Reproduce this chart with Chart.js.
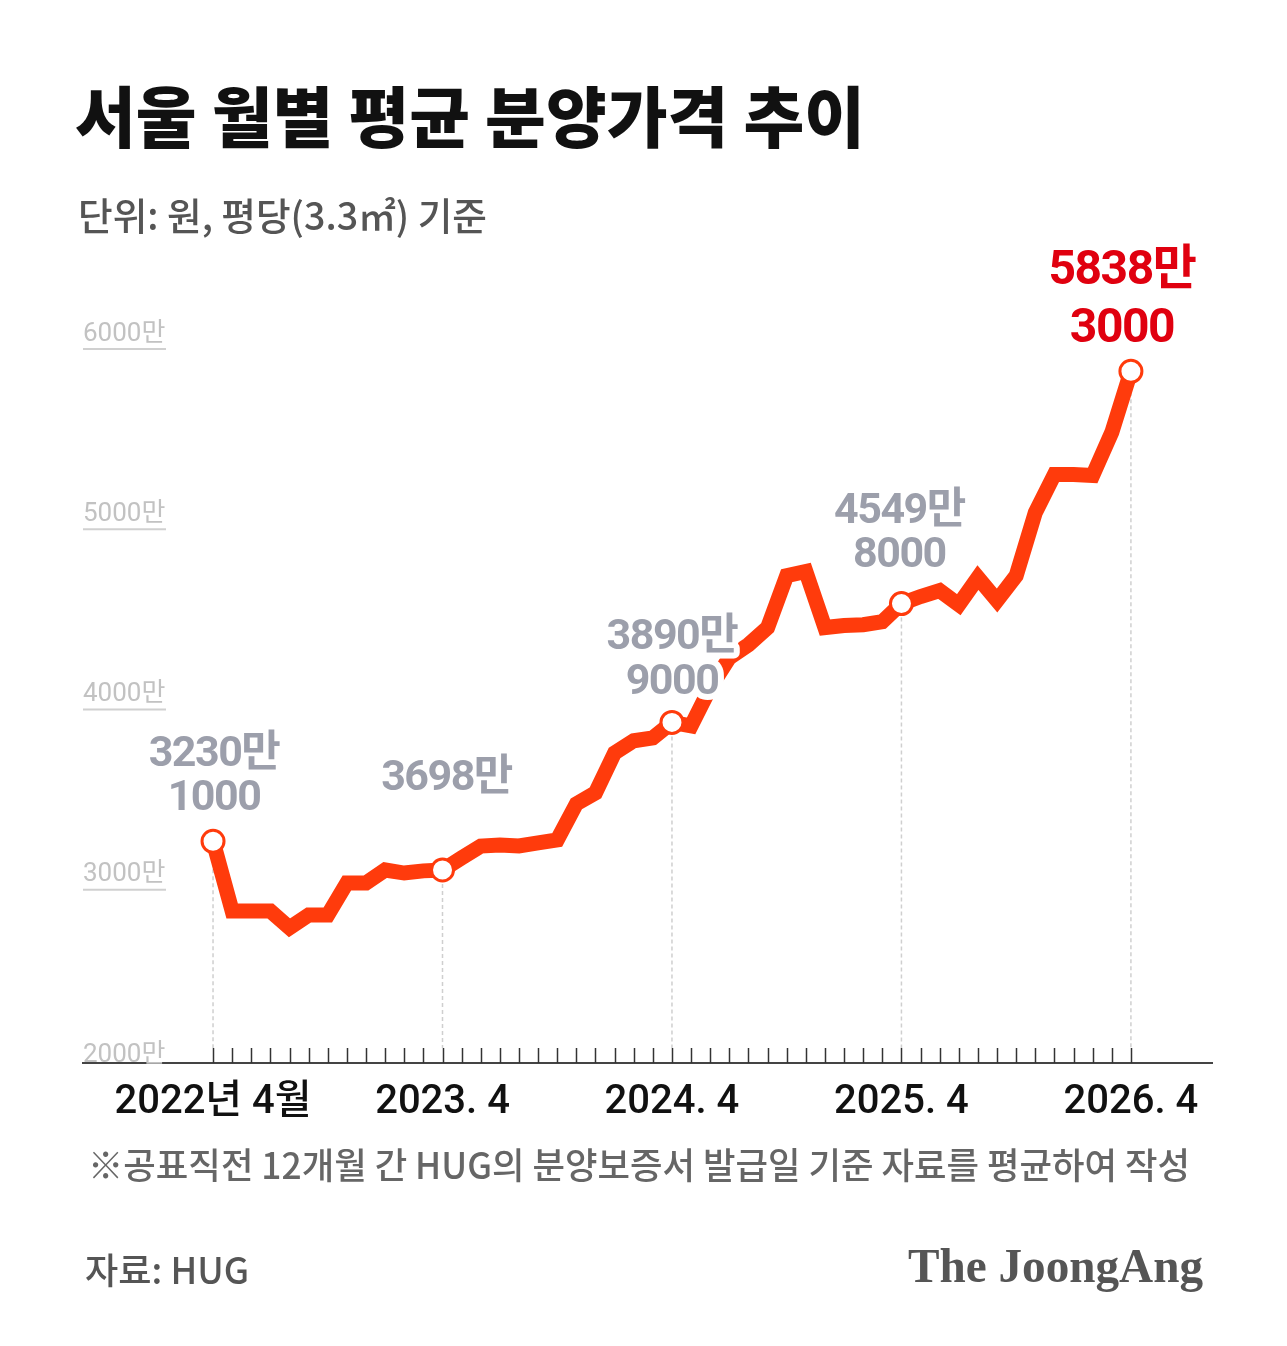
<!DOCTYPE html>
<html>
<head>
<meta charset="utf-8">
<script src="https://cdn.jsdelivr.net/npm/chart.js@4.4.1/dist/chart.umd.min.js"></script>
<style>
body{margin:0;background:#fff;width:1287px;height:1346px;position:relative;overflow:hidden;font-family:'Noto Sans CJK KR','Noto Sans',sans-serif}
#c{position:absolute;left:0;top:0}
.t{position:absolute;white-space:nowrap;line-height:1;transform-origin:left center}
</style>
</head>
<body>
<canvas id="c" width="1287" height="1346"></canvas>
<div class="t" data-w="790" style="left:75px;top:80px;font-size:66px;font-weight:900;color:#111">서울 월별 평균 분양가격 추이</div>
<div class="t" data-w="409" style="left:78px;top:195px;font-size:38px;font-weight:500;color:#555">단위: 원, 평당(3.3㎡) 기준</div>
<div class="t" data-w="1102" style="left:88px;top:1145px;font-size:36px;font-weight:500;color:#666">※공표직전 12개월 간 HUG의 분양보증서 발급일 기준 자료를 평균하여 작성</div>
<div class="t" data-w="164" style="left:85px;top:1250px;font-size:36px;font-weight:500;color:#555">자료: HUG</div>
<div class="t" data-w="295" style="left:908px;top:1242px;font-size:48px;font-weight:700;color:#555;font-family:'Liberation Serif',serif">The JoongAng</div>
<script>
// 월별 평균 분양가 (만원/평), 그림에서 읽은 값
var months = ['2022.4','2022.5','2022.6','2022.7','2022.8','2022.9','2022.10','2022.11','2022.12',
  '2023.1','2023.2','2023.3','2023.4','2023.5','2023.6','2023.7','2023.8','2023.9','2023.10','2023.11','2023.12',
  '2024.1','2024.2','2024.3','2024.4','2024.5','2024.6','2024.7','2024.8','2024.9','2024.10','2024.11','2024.12',
  '2025.1','2025.2','2025.3','2025.4','2025.5','2025.6','2025.7','2025.8','2025.9','2025.10','2025.11','2025.12',
  '2026.1','2026.2','2026.3','2026.4'];
var prices = [3230,2843,2843,2843,2750,2821,2821,2999,2999,3071,3054,3066,3071,3138,3204,3210,3204,3221,3238,3438,3499,
  3721,3788,3804,3890,3871,4082,4249,4321,4416,4704,4727,4416,4427,4432,4449,4549,4588,4621,4543,4693,4566,4704,
  5054,5266,5266,5260,5499,5838];
var tickMonths = ['2022.4','2023.4','2024.4','2025.4','2026.4'];
var tickLabels = ['2022년 4월','2023. 4','2024. 4','2025. 4','2026. 4'];
var yTicks = [2000,3000,4000,5000,6000];
// 표시된 값 라벨
var noteMonths = ['2022.4','2023.4','2024.4','2025.4','2026.4'];
var noteTexts = [['3230만','1000'],['3698만'],['3890만','9000'],['4549만','8000'],['5838만','3000']];

var lineColor = '#ff3b0c';
var markIdx = noteMonths.map(function(m){ return months.indexOf(m) });

var overlay = {
  id: 'overlay',
  beforeDatasetsDraw: function(chart) {
    var ctx = chart.ctx, x = chart.scales.x, y = chart.scales.y, area = chart.chartArea;
    ctx.save();
    ctx.strokeStyle = '#cfcfcf';
    ctx.lineWidth = 1.5;
    ctx.setLineDash([4,3]);
    markIdx.forEach(function(i){
      var px = x.getPixelForValue(i), py = y.getPixelForValue(prices[i]);
      ctx.beginPath(); ctx.moveTo(px, py); ctx.lineTo(px, area.bottom - 15); ctx.stroke();
    });
    ctx.restore();
  },
  afterDatasetsDraw: function(chart) {
    var ctx = chart.ctx, x = chart.scales.x, y = chart.scales.y;
    // offsets of label block, last line above point
    var dx = [1,4,0,-2,-9], dy = [42,91,39,47,41], lh = [44,44,45,44,58];
    ctx.save();
    ctx.textAlign = 'center';
    ctx.textBaseline = 'middle';
    ctx.lineJoin = 'round';
    noteTexts.forEach(function(lines, k){
      var i = markIdx[k];
      var px = x.getPixelForValue(i) + dx[k], py = y.getPixelForValue(prices[i]) - dy[k];
      var red = k == noteTexts.length - 1;
      ctx.font = 'bold ' + (red ? 48 : 43) + 'px Roboto, "Noto Sans CJK KR"';
      ctx.letterSpacing = '-1.5px';
      for (var j = 0; j < lines.length; j++) {
        var ly = py - (lines.length - 1 - j) * lh[k];
        ctx.strokeStyle = '#fff';
        ctx.lineWidth = 12;
        ctx.strokeText(lines[j], px, ly);
        ctx.fillStyle = red ? '#e0000f' : '#9c9fab';
        ctx.fillText(lines[j], px, ly);
      }
    });
    ctx.restore();
  },
  afterDraw: function(chart) {
    var ctx = chart.ctx, x = chart.scales.x, y = chart.scales.y, area = chart.chartArea;
    ctx.save();
    // month ticks above the axis
    ctx.strokeStyle = '#333';
    ctx.lineWidth = 1.5;
    months.forEach(function(m, i){
      var px = Math.round(x.getPixelForValue(i)) + 0.5;
      ctx.beginPath(); ctx.moveTo(px, area.bottom); ctx.lineTo(px, area.bottom - 15); ctx.stroke();
    });
    // underline under y labels
    ctx.strokeStyle = '#d0d0d0';
    ctx.lineWidth = 2;
    yTicks.forEach(function(v){
      if (v == yTicks[0]) return;
      var py = y.getPixelForValue(v) + 7;
      ctx.beginPath(); ctx.moveTo(area.left, py); ctx.lineTo(area.left + 83, py); ctx.stroke();
    });
    ctx.restore();
  }
};

function draw() {
  var ctx = document.getElementById('c').getContext('2d');
  new Chart(ctx, {
    type: 'line',
    data: {
      datasets: [{
        data: months.map(function(m, i){ return {x: i, y: prices[i]} }),
        borderColor: lineColor,
        borderWidth: 15,
        borderJoinStyle: 'miter',
        tension: 0,
        pointRadius: function(c){ return markIdx.indexOf(c.dataIndex) >= 0 ? 11 : 0 },
        pointHoverRadius: function(c){ return markIdx.indexOf(c.dataIndex) >= 0 ? 11 : 0 },
        pointBackgroundColor: '#fff',
        pointBorderColor: lineColor,
        pointBorderWidth: 3
      }]
    },
    options: {
      responsive: false,
      animation: false,
      events: [],
      layout: { padding: { top: 252, left: 83, right: 75, bottom: 203 } },
      plugins: { legend: { display: false }, tooltip: { enabled: false } },
      scales: {
        x: {
          type: 'linear',
          min: -6.8,
          max: 52.24,
          afterBuildTicks: function(s){
            s.ticks = tickMonths.map(function(m){ return {value: months.indexOf(m)} });
          },
          grid: { display: true, drawOnChartArea: false, drawTicks: false },
          border: { display: true, color: '#444', width: 2 },
          ticks: {
            autoSkip: false,
            maxRotation: 0,
            padding: 16,
            color: '#111',
            font: { family: 'Roboto, "Noto Sans CJK KR"', size: 40, weight: 500 },
            callback: function(v){ return tickLabels[tickMonths.indexOf(months[v])] }
          }
        },
        y: {
          min: 2000,
          max: 6500,
          afterBuildTicks: function(s){
            s.ticks = yTicks.map(function(v){ return {value: v} });
          },
          grid: { display: false, drawTicks: false },
          border: { display: false },
          ticks: {
            mirror: true,
            padding: 0,
            labelOffset: -8,
            color: '#c2c2c2',
            font: { family: 'Roboto, "Noto Sans CJK KR"', size: 26 },
            callback: function(v){ return v + '만' }
          }
        }
      }
    },
    plugins: [overlay]
  });
}

function fitTexts() {
  document.querySelectorAll('.t').forEach(function(el){
    var w = el.getBoundingClientRect().width;
    el.style.transform = 'scaleX(' + (+el.dataset.w / w) + ')';
  });
}

document.fonts.ready.then(function(){ fitTexts(); draw(); });
</script>
</body>
</html>
